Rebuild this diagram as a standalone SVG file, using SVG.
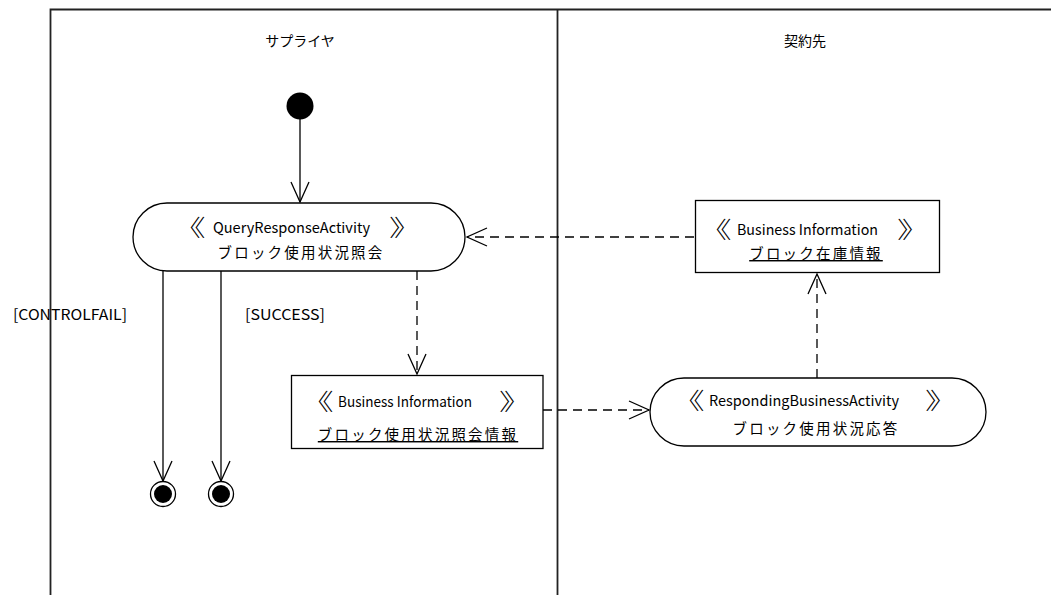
<svg xmlns="http://www.w3.org/2000/svg" width="1051" height="595" viewBox="0 0 1051 595">
<defs>
<style>
.lane{stroke:#222;stroke-width:1.8;fill:none}
.node{stroke:#000;stroke-width:1.3;fill:#fff}
.edge{stroke:#000;stroke-width:1.3;fill:none}
.dash{stroke-dasharray:9,6}
.t{font-family:"Noto Sans CJK JP","Noto Sans",sans-serif;fill:#000}
.lat{font-size:14.5px}
.jp{font-size:14.5px;letter-spacing:2.2px}
.chev{font-size:23px;font-weight:300}
.ttl{font-size:14px}
</style>
<marker id="open" viewBox="0 0 22 20" refX="21" refY="10" markerWidth="22" markerHeight="20" markerUnits="userSpaceOnUse" orient="auto">
<path d="M1,1 L21,10 L1,19" fill="none" stroke="#000" stroke-width="1.3"/>
</marker>
</defs>
<g id="swimlanes">
<path class="lane" d="M50.5,595 V9.5 H1051 M557.5,9.5 V595"/>
<text class="t ttl" x="300" y="46" text-anchor="middle">サプライヤ</text>
<text class="t ttl" x="805" y="46" text-anchor="middle">契約先</text>
</g>
<g id="connectors">
<path class="edge" d="M300,118 V202" marker-end="url(#open)"/>
<path class="edge" d="M163,271 V481" marker-end="url(#open)"/>
<path class="edge" d="M221,271 V481" marker-end="url(#open)"/>
<path class="edge dash" d="M417,271 V374" marker-end="url(#open)"/>
<path class="edge dash" d="M543,410 H649" marker-end="url(#open)"/>
<path class="edge dash" d="M817,378 V274" marker-end="url(#open)"/>
<path class="edge dash" d="M694,237 H467" marker-end="url(#open)"/>
<text class="t lat" x="13" y="320" textLength="114" lengthAdjust="spacingAndGlyphs">[CONTROLFAIL]</text>
<text class="t lat" x="245" y="320" textLength="80" lengthAdjust="spacingAndGlyphs">[SUCCESS]</text>
</g>
<g id="initial">
<circle cx="300" cy="106" r="13.5" fill="#000"/>
</g>
<g id="final1">
<circle cx="163" cy="494" r="12.5" class="node"/>
<circle cx="163" cy="494" r="9" fill="#000"/>
</g>
<g id="final2">
<circle cx="221" cy="494" r="12.5" class="node"/>
<circle cx="221" cy="494" r="9" fill="#000"/>
</g>
<g id="query">
<rect class="node" x="133" y="203" width="332" height="68" rx="34" ry="34"/>
<text class="t chev" transform="translate(173.6,236) scale(1.4,1)">《</text>
<text class="t lat" x="213" y="233" textLength="157" lengthAdjust="spacingAndGlyphs">QueryResponseActivity</text>
<text class="t chev" transform="translate(389,236) scale(1.4,1)">》</text>
<text class="t jp" x="301" y="258" text-anchor="middle">ブロック使用状況照会</text>
</g>
<g id="info1">
<rect class="node" x="291.5" y="375.5" width="251.5" height="73"/>
<text class="t chev" transform="translate(301.6,410) scale(1.4,1)">《</text>
<text class="t lat" x="338" y="407" textLength="134" lengthAdjust="spacingAndGlyphs">Business Information</text>
<text class="t chev" transform="translate(499,410) scale(1.4,1)">》</text>
<text class="t jp" x="418" y="440" text-anchor="middle" text-decoration="underline">ブロック使用状況照会情報</text>
</g>
<g id="responding">
<rect class="node" x="650" y="378" width="336" height="68" rx="34" ry="34"/>
<text class="t chev" transform="translate(672.6,409) scale(1.4,1)">《</text>
<text class="t lat" x="709" y="406" textLength="190" lengthAdjust="spacingAndGlyphs">RespondingBusinessActivity</text>
<text class="t chev" transform="translate(925,409) scale(1.4,1)">》</text>
<text class="t jp" x="816" y="434" text-anchor="middle">ブロック使用状況応答</text>
</g>
<g id="info2">
<rect class="node" x="695.5" y="200.5" width="244" height="72"/>
<text class="t chev" transform="translate(699.6,238) scale(1.4,1)">《</text>
<text class="t lat" x="737" y="235" textLength="141" lengthAdjust="spacingAndGlyphs">Business Information</text>
<text class="t chev" transform="translate(897,238) scale(1.4,1)">》</text>
<text class="t jp" x="816" y="259" text-anchor="middle" text-decoration="underline">ブロック在庫情報</text>
</g>
</svg>
